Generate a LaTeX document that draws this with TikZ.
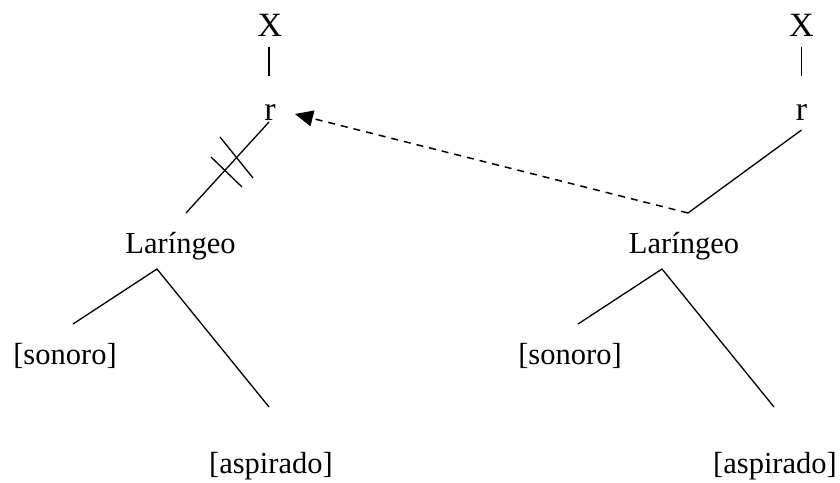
\documentclass[tikz,border=0pt]{standalone}
\usepackage{fontspec}
\setmainfont{Liberation Serif}
\usetikzlibrary{arrows.meta}
\tikzset{
  lbl/.style={anchor=base, inner sep=0pt, font=\fontsize{30.5}{36}\selectfont},
  big/.style={anchor=base, inner sep=0pt, font=\fontsize{34}{40}\selectfont},
  edge/.style={line width=1.3pt},
  dashedge/.style={line width=1.5pt, dash pattern=on 7pt off 6pt, -{Triangle[length=18pt,width=16pt]}}
}
\begin{document}
\begin{tikzpicture}[x=1pt,y=-1pt]
\useasboundingbox (0,0) rectangle (840,482);
% left tree
\node[big] (X1) at (270,36.5) {X};
\node[big] (r1) at (270,120) {r};
\node[lbl] (L1) at (180.5,253) {Laríngeo};
\node[lbl] (s1) at (65,364) {[sonoro]};
\node[lbl] (a1) at (271,473) {[aspirado]};
\coordinate (x1b) at (269,47);
\coordinate (r1t) at (269,76);
\coordinate (r1b) at (269,122);
\coordinate (L1t) at (186,213);
\coordinate (L1b) at (157,269);
\coordinate (s1t) at (73,324);
\coordinate (a1t) at (269,407);
\draw[edge] (x1b) -- (r1t);
\draw[edge] (r1b) -- (L1t);
\draw[edge] (s1t) -- (L1b) -- (a1t);
% double strike
\coordinate (k1a) at (220,137);
\coordinate (k1b) at (253,178);
\coordinate (k2a) at (211,157);
\coordinate (k2b) at (242,187);
\draw[edge] (k1a) -- (k1b);
\draw[edge] (k2a) -- (k2b);
% right tree
\node[big] (X2) at (801.5,36.5) {X};
\node[big] (r2) at (801.5,120) {r};
\node[lbl] (L2) at (684,253) {Laríngeo};
\node[lbl] (s2) at (570,364) {[sonoro]};
\node[lbl] (a2) at (775,473) {[aspirado]};
\coordinate (x2b) at (801.5,47);
\coordinate (r2t) at (801.5,76);
\coordinate (r2b) at (801.5,130);
\coordinate (L2t) at (688,213);
\coordinate (L2b) at (662,269);
\coordinate (s2t) at (578,324);
\coordinate (a2t) at (774,407);
\draw[edge] (x2b) -- (r2t);
\draw[edge] (r2b) -- (L2t);
\draw[edge] (s2t) -- (L2b) -- (a2t);
% dashed arrow
\coordinate (tip) at (295,114);
\draw[dashedge] (L2t) -- (tip);
\end{tikzpicture}
\end{document}
